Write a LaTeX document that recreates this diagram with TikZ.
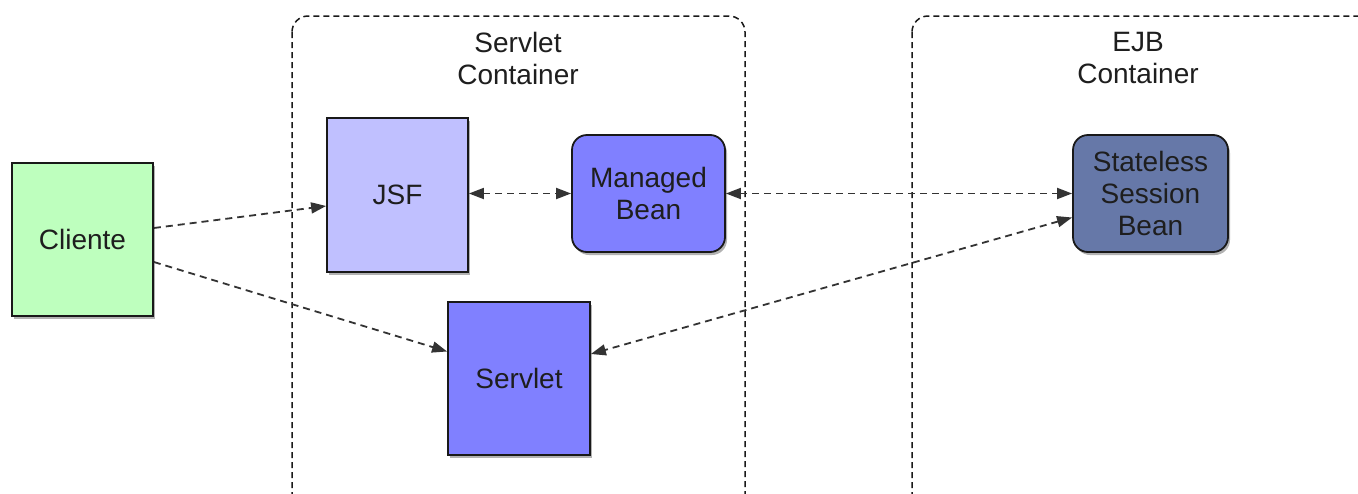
\documentclass[tikz,border=0pt]{standalone}
\usepackage{fontspec}
\setmainfont{Liberation Sans}
\usetikzlibrary{arrows.meta,shadows}
\definecolor{clientgreen}{RGB}{190,255,190}
\definecolor{jsfblue}{RGB}{192,192,255}
\definecolor{beanblue}{RGB}{128,128,255}
\definecolor{ejbblue}{RGB}{102,120,168}
\definecolor{txt}{RGB}{30,30,30}
\tikzset{
  box/.style={draw=black!90, line width=1.8pt, text=txt, align=center,
    font=\fontsize{28}{32}\selectfont, inner sep=0pt,
    drop shadow={shadow xshift=2pt, shadow yshift=-3pt, opacity=0.3, fill=black}},
  roundbox/.style={box, rounded corners=15pt},
  container/.style={draw=black!90, line width=1.5pt, dash pattern=on 6pt off 4pt, rounded corners=16pt},
  clabel/.style={text=txt, align=center, font=\fontsize{28}{32}\selectfont},
  link/.style={draw=black!80, line width=1.8pt, dash pattern=on 7pt off 5pt,
    -{Triangle[length=15pt,width=11pt]}},
  blink/.style={link, {Triangle[length=15pt,width=11pt]}-{Triangle[length=15pt,width=11pt]}}
}
\begin{document}
\begin{tikzpicture}[x=1pt,y=-1pt]
\useasboundingbox (0,0) rectangle (1358,493);
\fill[white] (0,0) rectangle (1358,493);
\begin{scope}
  \clip (0,0) rectangle (1358,493);
  \draw[container] (292,16) rectangle (745,530);
  \draw[container] (912,16) rectangle (1420,530);
\end{scope}
\node[clabel] (lsc) at (518,58) {Servlet\\Container};
\node[clabel] (lejb) at (1138,58) {EJB\\Container};

\node[box, fill=clientgreen, minimum width=141pt, minimum height=153pt] (cli) at (82.5,239.5) {Cliente};
\node[box, fill=jsfblue, minimum width=141pt, minimum height=154pt] (jsf) at (397.5,195) {JSF};
\node[roundbox, fill=beanblue, minimum width=153pt, minimum height=117pt] (mb) at (648.5,193.5) {Managed\\Bean};
\node[roundbox, fill=ejbblue, minimum width=155pt, minimum height=117pt] (ssb) at (1150.5,193.5) {Stateless\\Session\\Bean};
\node[box, fill=beanblue, minimum width=142pt, minimum height=153pt] (srv) at (519,378.5) {Servlet};

\draw[link] ([yshift=11.5pt]cli.east) -- ([yshift=-11pt]jsf.west);
\draw[link] ([yshift=-22.5pt]cli.east) -- ([yshift=27pt]srv.west);
\draw[blink] (mb.west -| jsf.east) -- (mb.west);
\draw[blink] (mb.east) -- (ssb.west);
\draw[blink] ([yshift=-24pt]ssb.west) -- ([yshift=24.5pt]srv.east);
\end{tikzpicture}
\end{document}
